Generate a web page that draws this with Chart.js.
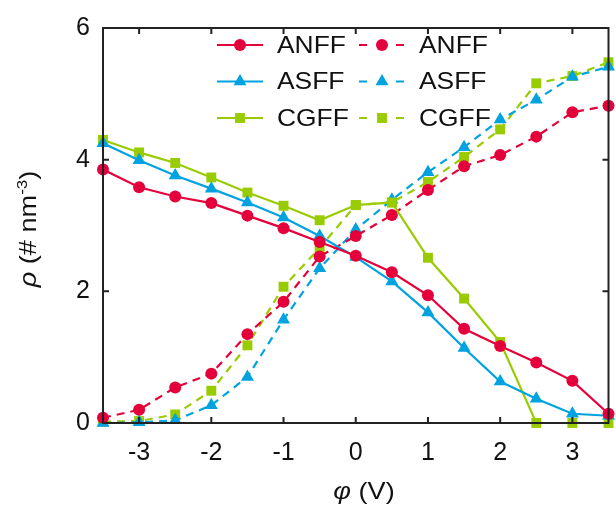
<!DOCTYPE html>
<html>
<head>
<meta charset="utf-8">
<script src="https://cdn.jsdelivr.net/npm/chart.js@4/dist/chart.umd.min.js"></script>
<style>
  body { margin: 0; background: #fff; }
  #wrap { width: 616px; height: 508px; }
</style>
</head>
<body>
<div id="wrap"><canvas id="rhoChart" width="616" height="508"></canvas></div>
<script>
// potential values (V)
const phi = [-3.5, -3, -2.5, -2, -1.5, -1, -0.5, 0, 0.5, 1, 1.5, 2, 2.5, 3, 3.5];

// solid lines
const anffSolid = [3.85, 3.58, 3.44, 3.34, 3.15, 2.96, 2.75, 2.54, 2.29, 1.94, 1.43, 1.17, 0.92, 0.64, 0.14];
const asffSolid = [4.25, 3.99, 3.76, 3.56, 3.35, 3.12, 2.84, 2.52, 2.15, 1.68, 1.14, 0.63, 0.37, 0.14, 0.11];
const cgffSolid = [4.30, 4.11, 3.95, 3.73, 3.50, 3.30, 3.08, 3.31, 3.35, 2.51, 1.89, 1.23, 0.0, 0.0, 0.0];

// dashed lines
const anffDash = [0.08, 0.20, 0.54, 0.75, 1.35, 1.84, 2.53, 2.84, 3.16, 3.54, 3.90, 4.07, 4.35, 4.72, 4.82];
const asffDash = [0.0, 0.01, 0.04, 0.27, 0.70, 1.57, 2.35, 2.94, 3.39, 3.81, 4.19, 4.61, 4.91, 5.26, 5.41];
const cgffDash = [0.02, 0.03, 0.13, 0.49, 1.18, 2.07, 2.66, 3.31, 3.35, 3.66, 4.04, 4.46, 5.16, 5.27, 5.48];

const seriesNames = ['ANFF', 'ASFF', 'CGFF', 'ANFF', 'ASFF', 'CGFF'];
const xTicks = [-3, -2, -1, 0, 1, 2, 3];
const yTicks = [0, 2, 4, 6];

const RED = '#e4003a', BLUE = '#00a3e0', GREEN = '#99cc00';
const FONT = '"Liberation Sans", Arial, sans-serif';

function pts(ys) {
  return phi.map((x, i) => ({ x: x, y: ys[i] }));
}

function makeSet(name, ys, color, style, radius, dashed) {
  return {
    label: name,
    data: pts(ys),
    borderColor: color,
    backgroundColor: color,
    borderWidth: 2.2,
    borderDash: dashed ? [8, 6] : [],
    pointStyle: style,
    pointRadius: radius,
    pointBorderWidth: 0,
    pointBackgroundColor: color,
    tension: 0,
    clip: false
  };
}

const datasets = [
  makeSet(seriesNames[0], anffSolid, RED, 'circle', 6, false),
  makeSet(seriesNames[1], asffSolid, BLUE, 'triangle', 7.5, false),
  makeSet(seriesNames[2], cgffSolid, GREEN, 'rect', 7, false),
  makeSet(seriesNames[3], anffDash, RED, 'circle', 6, true),
  makeSet(seriesNames[4], asffDash, BLUE, 'triangle', 7.5, true),
  makeSet(seriesNames[5], cgffDash, GREEN, 'rect', 7, true)
];

// text pieces drawn with a slight horizontal stretch, like the original figure
function wideText(ctx, parts, x, y, sx, align) {
  let total = 0;
  parts.forEach(p => { ctx.font = p.font; p.w = ctx.measureText(p.text).width; total += p.w; });
  ctx.save();
  ctx.translate(x, y);
  ctx.scale(sx, 1);
  let t = align === 'center' ? -total / 2 : 0;
  parts.forEach(p => {
    ctx.font = p.font;
    ctx.fillText(p.text, t, p.dy || 0);
    t += p.w;
  });
  ctx.restore();
}

// frame, inner ticks, axis titles and the two-column legend
const decor = {
  id: 'decor',
  afterDraw(chart) {
    const ctx = chart.ctx;
    const a = chart.chartArea;
    const xs = chart.scales.x, ys = chart.scales.y;
    ctx.save();
    ctx.strokeStyle = '#222';
    ctx.lineWidth = 2;
    ctx.setLineDash([]);
    ctx.strokeRect(a.left, a.top, a.right - a.left, a.bottom - a.top);
    ctx.beginPath();
    xTicks.forEach(v => {
      const px = xs.getPixelForValue(v);
      ctx.moveTo(px, a.bottom); ctx.lineTo(px, a.bottom - 6);
      ctx.moveTo(px, a.top); ctx.lineTo(px, a.top + 6);
    });
    yTicks.forEach(v => {
      const py = ys.getPixelForValue(v);
      ctx.moveTo(a.left, py); ctx.lineTo(a.left + 6, py);
      ctx.moveTo(a.right, py); ctx.lineTo(a.right - 6, py);
    });
    ctx.stroke();

    const it = 'italic 24px ' + FONT, nf = '24px ' + FONT, sm = '15px ' + FONT;
    ctx.fillStyle = '#111';
    ctx.textAlign = 'left';
    ctx.textBaseline = 'alphabetic';

    // x title
    wideText(ctx, [{ text: '\u03c6', font: it }, { text: ' (V)', font: nf }], 364, 499, 1.13, 'center');

    // y title, rotated
    ctx.save();
    ctx.translate(36, 229);
    ctx.rotate(-Math.PI / 2);
    wideText(ctx, [
      { text: '\u03c1', font: it },
      { text: ' (# nm', font: nf },
      { text: '-3', font: sm, dy: -9 },
      { text: ')', font: nf }
    ], 0, 0, 1.13, 'center');
    ctx.restore();

    // legend
    const colX = [217, 359];
    const rowY = [45, 81.5, 118];
    chart.data.datasets.forEach((ds, i) => {
      const c = Math.floor(i / 3), r = i % 3;
      const lx = colX[c], ly = rowY[r];
      ctx.strokeStyle = ds.borderColor;
      ctx.lineWidth = 2.2;
      ctx.setLineDash(ds.borderDash.length ? [8, 29] : []);
      ctx.beginPath();
      ctx.moveTo(lx, ly); ctx.lineTo(lx + 46, ly);
      ctx.stroke();
      ctx.setLineDash([]);
      ctx.fillStyle = ds.pointBackgroundColor;
      Chart.helpers.drawPoint(ctx, {
        pointStyle: ds.pointStyle, radius: ds.pointRadius, borderWidth: 0, rotation: 0
      }, lx + 23, ly);
      ctx.fillStyle = '#111';
      ctx.textBaseline = 'middle';
      wideText(ctx, [{ text: ds.label, font: nf }], lx + 60, ly + 1, 1.1, 'left');
    });
    ctx.restore();
  }
};

new Chart(document.getElementById('rhoChart'), {
  type: 'line',
  data: { datasets: datasets },
  options: {
    responsive: false,
    animation: false,
    layout: { padding: { top: 22, right: 4, left: 0, bottom: 0 } },
    plugins: { legend: { display: false }, tooltip: { enabled: false } },
    scales: {
      x: {
        type: 'linear',
        min: -3.5,
        max: 3.5,
        afterBuildTicks: s => { s.ticks = xTicks.map(v => ({ value: v })); },
        afterFit: s => { s.height = 85; },
        grid: { display: false, drawTicks: false },
        border: { display: false },
        ticks: { color: '#111', font: { size: 25, family: FONT }, padding: 15, maxRotation: 0 }
      },
      y: {
        min: 0,
        max: 6,
        afterBuildTicks: s => { s.ticks = yTicks.map(v => ({ value: v })); },
        afterFit: s => { s.width = 103; },
        grid: { display: false, drawTicks: false },
        border: { display: false },
        ticks: { color: '#111', font: { size: 25, family: FONT }, padding: 13 }
      }
    }
  },
  plugins: [decor]
});
</script>
</body>
</html>
